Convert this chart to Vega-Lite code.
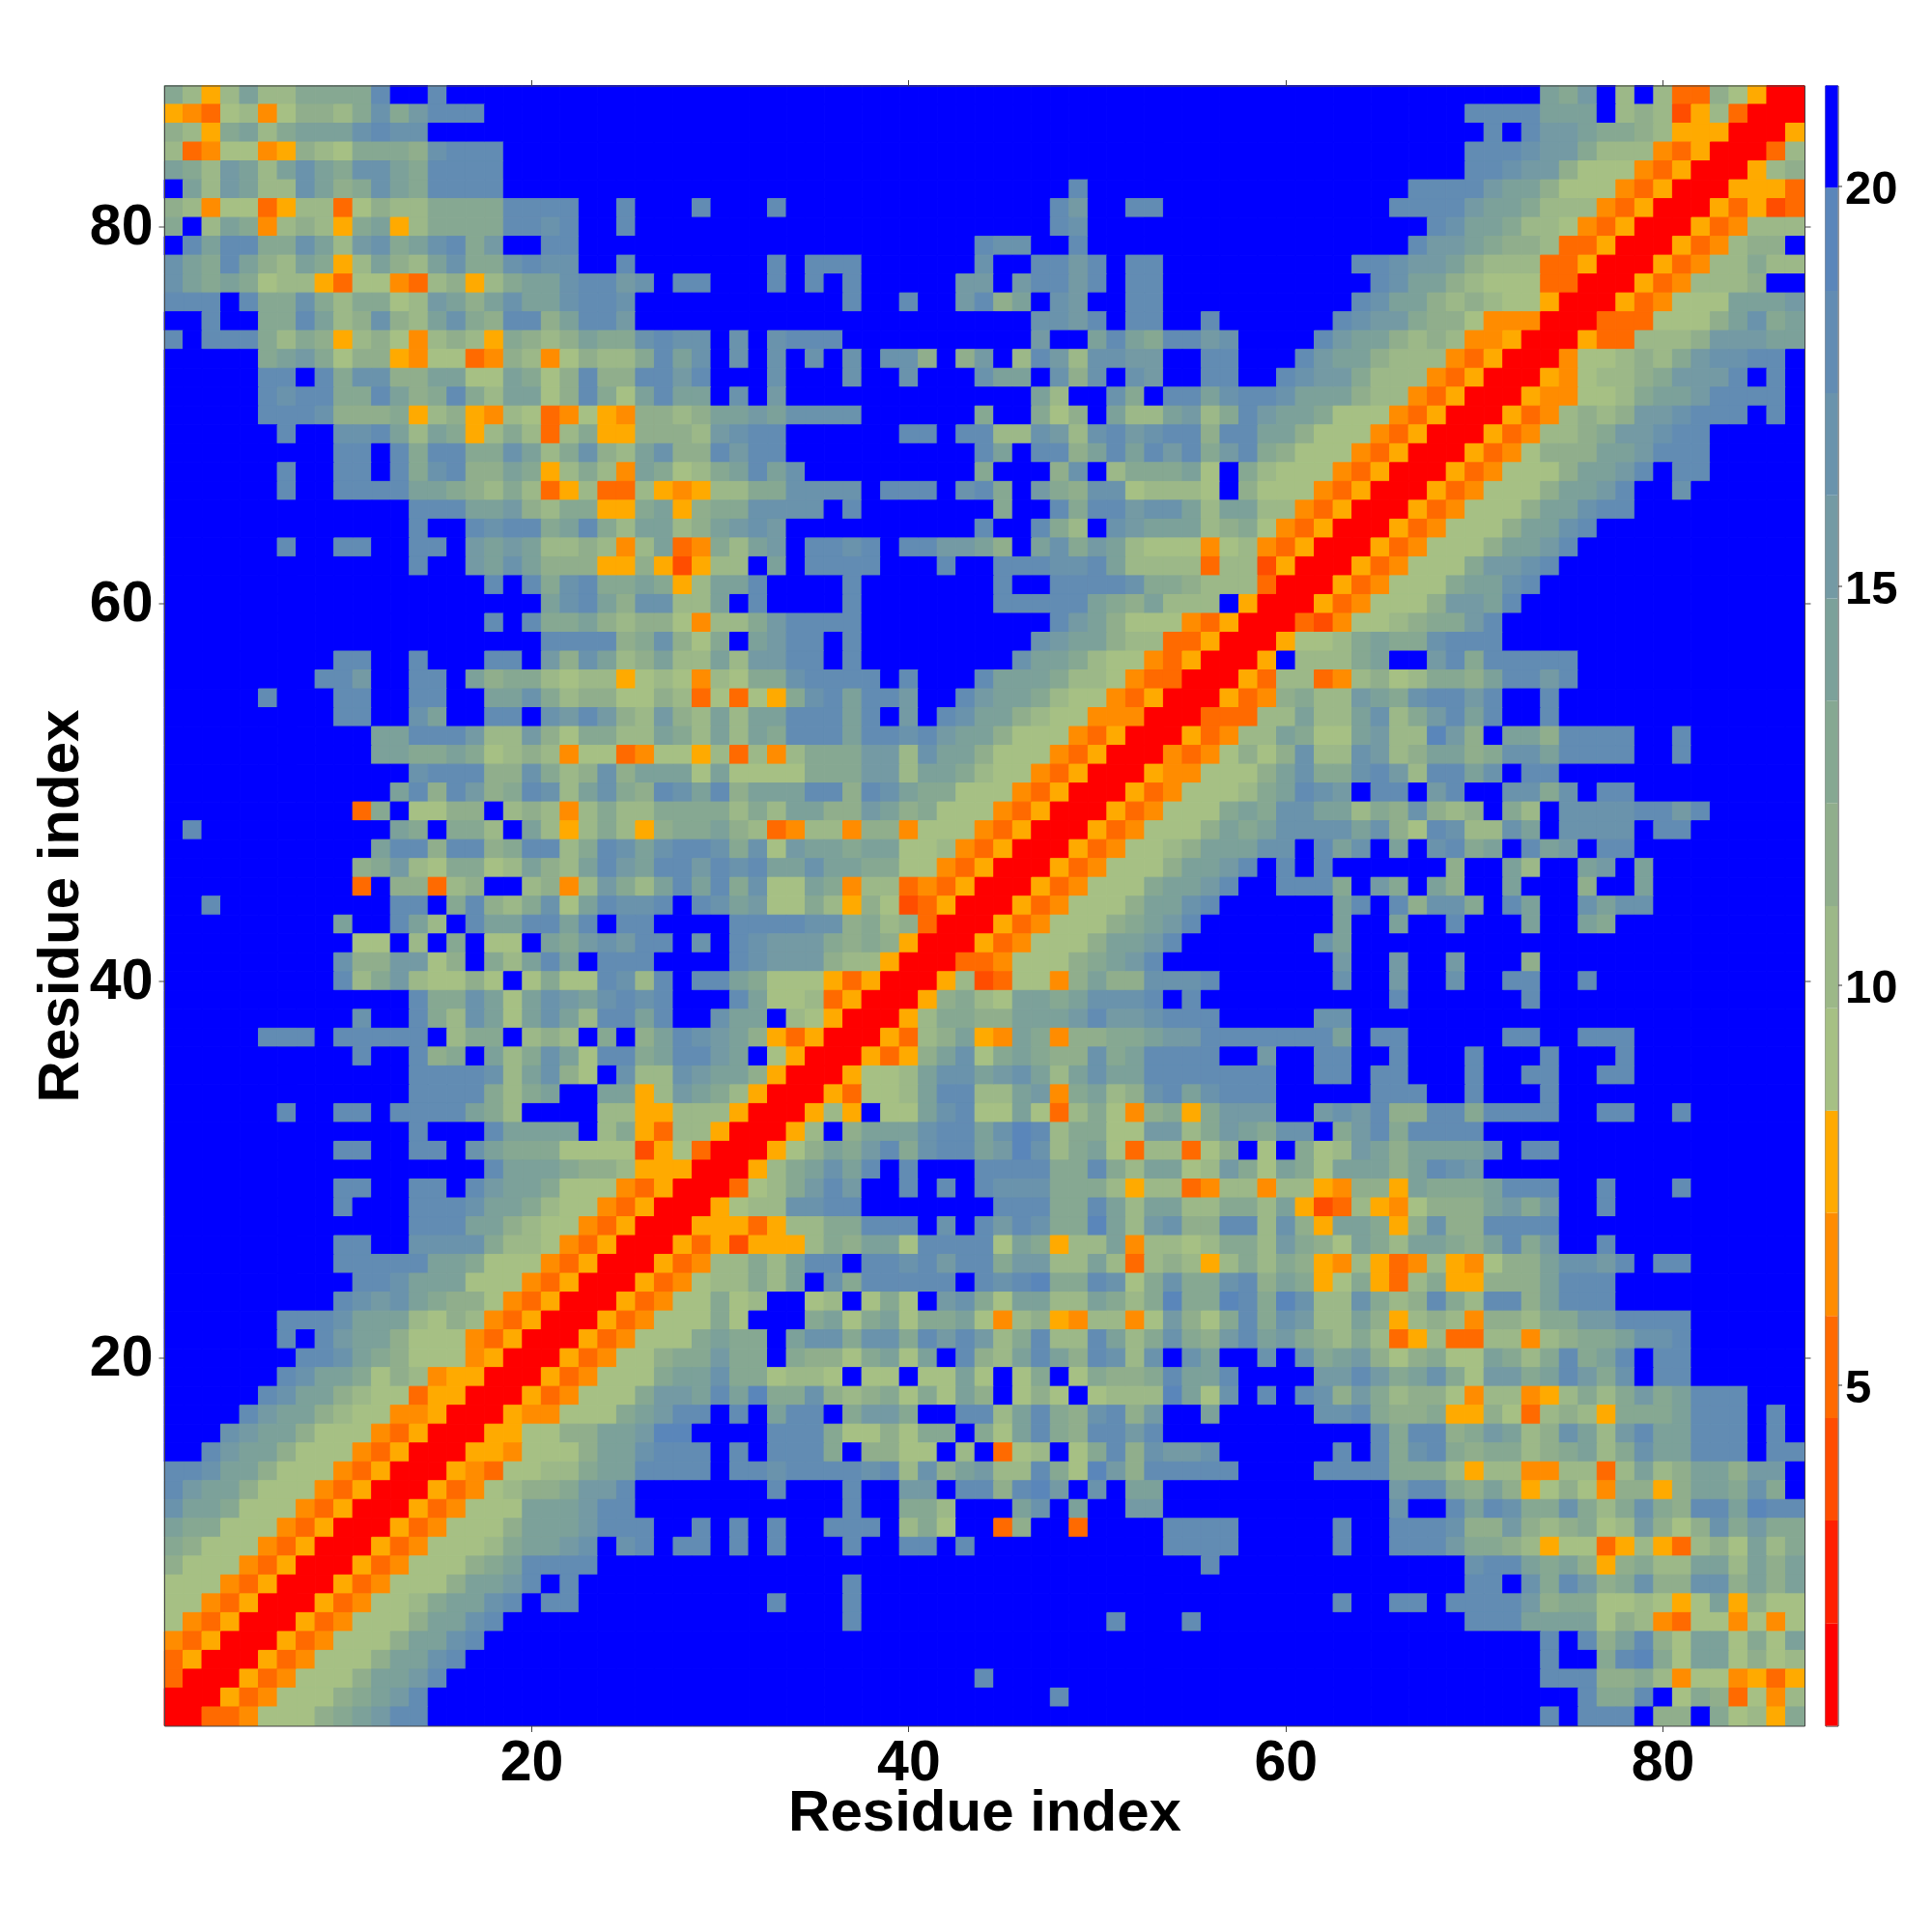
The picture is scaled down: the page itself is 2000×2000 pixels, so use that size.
{"$schema":"https://vega.github.io/schema/vega-lite/v6.json","background":"white","padding":{"left":32,"top":81.5,"right":0,"bottom":0},"config":{"view":{"stroke":null},"font":"Liberation Sans"},"spacing":13.5,"hconcat":[{"width":1698,"height":1698,"data":{"values":[
{"y":87,"v":[13,10,8,10,14,10,10,13,13,13, 13,18,21,21,18,21,21,21,21,21, 21,21,21,21,21,21,21,21,21,21, 21,21,21,21,21,21,21,21,21,21, 21,21,21,21,21,21,21,21,21,21, 21,21,21,21,21,21,21,21,21,21, 21,21,21,21,21,21,21,21,21,21, 21,21,21,14,13,16,21,10,21,10, 5,5,12,9,8,1,1]},
{"y":86,"v":[8,7,5,9,10,7,9,12,12,10, 13,17,13,16,18,18,18,21,21,21, 21,21,21,21,21,21,21,21,21,21, 21,21,21,21,21,21,21,21,21,21, 21,21,21,21,21,21,21,21,21,21, 21,21,21,21,21,21,21,21,21,21, 21,21,21,21,21,21,21,21,21,18, 18,18,18,14,14,14,21,10,12,10, 4,8,10,5,1,1,1]},
{"y":85,"v":[12,10,8,13,14,10,13,14,14,14, 17,18,17,17,21,21,21,21,21,21, 21,21,21,21,21,21,21,21,21,21, 21,21,21,21,21,21,21,21,21,21, 21,21,21,21,21,21,21,21,21,21, 21,21,21,21,21,21,21,21,21,21, 21,21,21,21,21,21,21,21,21,21, 18,21,18,16,16,14,13,13,12,10, 8,8,8,1,1,1,8]},
{"y":84,"v":[10,5,7,9,9,7,8,12,10,9, 13,13,13,12,17,18,18,18,21,21, 21,21,21,21,21,21,21,21,21,21, 21,21,21,21,21,21,21,21,21,21, 21,21,21,21,21,21,21,21,21,21, 21,21,21,21,21,21,21,21,21,21, 21,21,21,21,21,21,21,21,21,18, 18,18,17,16,16,13,10,10,10,7, 5,8,1,1,1,5,10]},
{"y":83,"v":[14,13,10,16,14,10,14,17,14,13, 17,17,14,13,18,18,18,18,21,21, 21,21,21,21,21,21,21,21,21,21, 21,21,21,21,21,21,21,21,21,21, 21,21,21,21,21,21,21,21,21,21, 21,21,21,21,21,21,21,21,21,21, 21,21,21,21,21,21,21,21,21,18, 18,17,16,16,12,9,9,9,7,5, 8,1,1,1,8,10,12]},
{"y":82,"v":[21,14,10,16,14,10,10,17,14,12, 13,17,14,13,18,18,18,18,21,21, 21,21,21,21,21,21,21,21,21,21, 21,21,21,21,21,21,21,21,21,21, 21,21,21,21,21,21,21,21,18,21, 21,21,21,21,21,21,21,21,21,21, 21,21,21,21,21,21,18,18,18,18, 16,14,14,12,9,9,9,7,5,8, 1,1,1,8,8,8,5]},
{"y":81,"v":[12,10,7,9,9,5,8,10,10,5, 9,12,10,10,13,13,13,13,18,18, 18,18,21,21,18,21,21,21,18,21, 21,21,18,21,21,21,21,21,21,21, 21,21,21,21,21,21,21,18,16,21, 21,18,18,21,21,21,21,21,21,21, 21,21,21,21,21,18,18,18,18,16, 14,14,13,10,10,10,7,5,8,1, 1,1,8,5,8,4,5]},
{"y":80,"v":[13,21,10,14,13,7,10,12,10,8, 13,14,8,10,13,13,13,13,18,18, 17,18,21,21,18,21,21,21,21,21, 21,21,21,21,21,21,21,21,21,21, 21,21,21,21,21,21,21,18,17,21, 21,21,21,21,21,21,21,21,21,21, 21,21,21,21,21,21,21,18,17,14, 14,13,10,10,9,7,5,8,1,1, 1,8,5,7,10,10,10]},
{"y":79,"v":[21,18,14,18,18,13,13,17,14,10, 16,17,13,14,17,18,13,16,21,21, 18,18,21,21,21,21,21,21,21,21, 21,21,21,21,21,21,21,21,21,21, 21,21,21,18,17,17,21,21,18,21, 21,21,21,21,21,21,21,21,21,21, 21,21,21,21,21,21,18,16,16,14, 13,12,12,10,5,5,8,1,1,1, 8,5,7,10,12,12,21]},
{"y":78,"v":[17,14,13,18,14,12,10,14,13,8, 10,14,12,10,14,17,13,13,17,18, 17,17,21,21,18,21,21,21,21,21, 21,21,18,21,18,18,18,21,21,21, 21,21,21,17,21,21,18,18,16,18, 21,18,18,21,21,21,21,21,21,21, 21,21,21,18,18,17,16,16,14,12, 10,10,10,5,5,8,1,1,1,8, 5,7,10,10,13,10,10]},
{"y":77,"v":[17,14,13,14,13,9,10,10,8,5, 9,9,7,5,10,12,8,10,13,14, 14,17,18,18,16,17,21,18,18,21, 21,21,18,21,18,21,18,21,21,21, 21,21,16,16,21,16,18,18,16,18, 21,18,18,21,21,21,21,21,21,21, 21,21,21,21,18,17,14,14,12,10, 9,9,9,5,5,1,1,1,8,5, 7,10,10,10,12,21,21]},
{"y":76,"v":[18,18,18,21,18,13,13,17,13,10, 13,13,9,10,16,14,12,14,17,14, 14,17,18,18,17,21,21,21,21,21, 21,21,21,21,21,21,18,21,21,18, 21,21,16,18,12,14,21,17,16,21, 21,18,18,21,21,21,21,21,21,21, 21,21,21,18,17,14,14,12,10,12, 10,9,9,8,1,1,1,8,5,7, 9,9,9,14,14,14,16]},
{"y":75,"v":[21,21,18,21,21,13,13,18,14,10, 12,17,12,10,14,17,13,12,18,18, 12,14,18,18,16,21,21,21,21,21, 21,21,21,21,21,21,21,21,21,21, 21,21,21,21,21,21,17,17,16,18, 21,18,18,21,21,18,21,21,21,21, 21,21,18,17,16,16,13,12,12,9, 7,7,7,1,1,1,5,5,5,9, 9,9,12,14,17,13,14]},
{"y":74,"v":[18,21,18,18,18,13,10,13,12,8, 10,12,9,7,10,12,10,8,13,12, 10,12,14,13,13,17,18,17,17,21, 17,21,17,18,18,18,21,21,21,21, 21,21,21,21,21,21,16,21,21,14, 18,14,13,18,18,16,17,21,21,21, 21,18,16,14,14,12,10,12,10,7, 7,8,1,1,1,8,5,5,10,10, 10,12,16,16,16,14,14]},
{"y":73,"v":[21,21,21,21,21,13,14,16,13,9, 12,12,8,7,9,9,5,7,12,10, 7,9,12,10,10,13,18,14,17,21, 17,21,17,21,17,21,17,21,17,17, 12,21,12,16,21,10,18,16,10,17, 17,16,16,21,21,18,18,21,21,21, 18,16,14,14,12,10,10,10,7,5, 8,1,1,1,7,9,9,10,12,10, 13,16,17,17,18,18,21]},
{"y":72,"v":[21,21,21,21,21,18,18,21,18,13, 17,17,12,12,14,14,9,9,14,13, 9,12,18,12,12,18,18,16,18,21, 21,21,17,21,21,21,17,21,21,17, 21,21,21,17,14,14,21,17,12,17, 21,17,16,21,21,18,18,21,21,18, 17,16,16,13,10,10,10,7,5,8, 1,1,1,8,7,9,10,10,12,13, 16,16,16,18,21,18,21]},
{"y":71,"v":[21,21,21,21,21,18,17,18,18,13, 13,18,14,12,13,18,13,10,14,14, 9,12,18,13,9,14,18,14,14,21, 17,21,16,21,21,21,21,21,21,21, 21,21,21,21,21,21,14,10,21,21, 17,13,21,18,18,14,17,18,18,17, 14,14,14,12,10,10,7,5,8,1, 1,1,8,7,7,9,9,10,13,14, 14,16,18,18,18,18,21]},
{"y":70,"v":[21,21,21,21,21,18,18,18,17,12, 12,12,13,8,10,12,8,7,10,9, 5,7,9,8,7,12,12,10,12,14, 14,16,14,17,17,17,17,21,21,21, 21,21,21,13,21,21,13,9,12,21, 14,10,10,14,16,10,13,18,16,14, 14,13,9,9,9,7,5,8,1,1, 1,8,5,7,10,12,10,12,16,16, 17,18,18,18,21,18,21]},
{"y":69,"v":[21,21,21,21,21,21,18,21,21,17, 17,18,14,10,14,13,8,10,13,10, 5,10,13,8,8,12,12,12,10,16, 17,18,18,21,21,21,21,21,21,18, 18,21,18,18,10,10,17,16,10,17, 18,16,17,18,18,12,18,18,14,14, 12,9,9,9,7,5,8,1,1,1, 8,5,7,10,10,12,13,16,16,17, 18,18,21,21,21,21,21]},
{"y":68,"v":[21,21,21,21,21,21,21,21,21,18, 18,21,18,13,18,18,13,13,17,14, 10,13,17,12,10,14,17,12,12,18, 16,18,18,21,21,21,21,21,21,21, 21,21,21,18,14,21,18,18,12,14, 18,14,18,16,18,13,16,18,13,12, 9,9,9,7,5,8,1,1,1,8, 5,7,9,12,12,12,14,14,16,18, 18,18,21,21,21,21,21]},
{"y":67,"v":[21,21,21,21,21,21,18,21,21,18, 18,21,18,13,17,18,12,12,14,13, 8,10,13,10,7,14,13,9,10,13, 14,18,14,17,21,21,21,21,21,21, 21,21,21,13,21,21,21,12,17,21, 10,13,13,13,14,9,21,13,10,9, 9,9,7,5,8,1,1,1,8,5, 7,9,9,9,12,14,14,16,18,21, 18,18,21,21,21,21,21]},
{"y":66,"v":[21,21,21,21,21,21,18,21,21,18, 18,18,18,14,14,13,12,10,13,10, 5,8,10,5,5,10,8,7,8,10, 10,13,13,17,17,17,17,21,18,18, 18,21,17,18,13,21,16,13,12,17, 17,9,10,10,10,9,21,12,9,9, 9,7,5,8,1,1,1,8,5,7, 9,9,9,12,14,14,16,18,21,21, 17,21,21,21,21,21,21]},
{"y":65,"v":[21,21,21,21,21,21,21,21,21,21, 21,21,21,18,18,18,14,14,16,12, 10,13,13,8,8,13,14,8,12,13, 13,17,17,17,17,21,18,21,21,21, 21,21,21,21,13,21,21,18,13,18, 18,16,17,17,14,10,14,14,10,10, 7,5,8,1,1,1,8,5,7,9, 9,9,12,14,14,17,18,18,21,21, 21,21,21,21,21,21,21]},
{"y":64,"v":[21,21,21,21,21,21,21,21,21,21, 21,21,21,18,21,21,18,17,18,18, 13,14,18,13,10,14,14,10,12,14, 16,17,16,21,21,21,21,21,21,21, 21,21,21,18,21,21,18,13,10,21, 17,16,14,14,14,10,12,13,9,7, 5,8,1,1,1,8,5,7,9,9, 9,12,14,14,17,18,21,21,21,21, 21,21,21,21,21,21,21]},
{"y":63,"v":[21,21,21,21,21,21,18,21,21,18, 18,21,21,18,18,21,16,14,16,14, 10,10,12,10,7,10,14,5,7,13, 10,14,16,21,18,18,17,18,21,18, 18,16,16,14,12,21,14,17,13,16, 14,10,9,9,9,7,9,10,7,5, 8,1,1,1,8,5,7,9,9,9, 12,14,14,16,18,21,21,21,21,21, 21,21,21,21,21,21,21]},
{"y":62,"v":[21,21,21,21,21,21,21,21,21,21, 21,21,21,18,21,21,16,14,17,14, 12,12,12,8,8,12,8,4,8,10, 10,21,14,21,18,18,18,18,21,21, 21,18,21,21,18,18,18,17,17,18, 14,10,10,10,10,5,10,10,4,8, 1,1,1,8,5,7,9,9,9,13, 16,16,17,18,21,21,21,21,21,21, 21,21,21,21,21,21,21]},
{"y":61,"v":[21,21,21,21,21,21,21,21,21,21, 21,21,21,21,21,21,21,18,21,18, 13,17,18,13,13,14,13,8,10,14, 14,18,21,21,21,21,18,21,21,21, 21,21,21,21,18,21,21,18,18,18, 18,17,13,13,12,10,10,10,5,1, 1,1,8,5,7,9,9,9,13,14, 14,17,18,21,21,21,21,21,21,21, 21,21,21,21,21,21,21]},
{"y":60,"v":[21,21,21,21,21,21,21,21,21,21, 21,21,21,21,21,21,21,21,21,21, 14,17,18,14,12,17,17,10,10,14, 21,18,21,21,21,21,18,21,21,21, 21,21,21,21,18,18,18,18,18,14, 13,12,14,10,10,10,21,8,1,1, 1,8,5,7,9,9,9,12,16,16, 14,18,21,21,21,21,21,21,21,21, 21,21,21,21,21,21,21]},
{"y":59,"v":[21,21,21,21,21,21,21,21,21,21, 21,21,21,21,21,21,21,18,21,18, 13,13,14,12,10,12,12,9,7,10, 10,13,16,18,18,18,18,21,21,21, 21,21,21,21,21,21,21,18,16,14, 12,9,9,9,7,5,8,1,1,1, 5,4,7,9,9,10,12,13,13,16, 18,21,21,21,21,21,21,21,21,21, 21,21,21,21,21,21,21]},
{"y":58,"v":[21,21,21,21,21,21,21,21,21,21, 21,21,21,21,21,21,21,21,21,21, 18,18,18,18,12,13,17,12,9,13, 21,14,16,18,18,21,18,21,21,21, 21,21,21,21,21,21,17,16,14,14, 12,10,10,5,5,8,1,1,1,8, 9,9,10,13,14,13,13,17,18,18, 18,21,21,21,21,21,21,21,21,21, 21,21,21,21,21,21,21]},
{"y":57,"v":[21,21,21,21,21,21,21,21,21,18, 18,21,21,18,21,21,21,18,18,21, 16,12,17,14,10,12,14,10,10,14, 10,16,16,18,18,21,18,21,21,21, 21,21,21,21,21,17,14,14,13,10, 9,9,7,5,8,1,1,1,8,21, 10,10,10,13,14,21,21,16,18,13, 18,18,18,18,18,21,21,21,21,21, 21,21,21,21,21,21,21]},
{"y":56,"v":[21,21,21,21,21,21,21,21,18,18, 16,21,21,18,18,21,14,12,13,13, 10,9,10,10,8,9,10,9,7,10, 9,13,13,17,18,18,18,18,21,18, 21,21,21,18,14,14,14,13,10,10, 9,7,5,5,1,1,1,8,5,10, 10,5,7,10,12,9,10,13,13,12, 14,18,18,16,18,21,21,21,21,21, 21,21,21,21,21,21,21]},
{"y":55,"v":[21,21,21,21,21,18,21,21,21,18, 18,21,21,18,18,21,21,14,14,17, 13,10,12,12,9,9,12,10,5,9, 5,9,8,13,17,18,14,18,18,16, 21,21,18,16,14,14,13,10,9,9, 7,5,8,1,1,1,8,5,7,12, 13,10,10,16,14,13,17,18,18,16, 18,21,21,18,21,21,21,21,21,21, 21,21,21,21,21,21,21]},
{"y":54,"v":[21,21,21,21,21,21,21,21,21,18, 18,21,21,17,14,21,21,18,18,21, 17,16,18,16,12,10,16,12,10,14, 10,14,14,18,18,18,14,18,21,16, 21,18,17,14,14,12,10,9,9,7, 7,7,1,1,1,5,5,5,10,10, 14,10,10,14,17,10,13,16,18,14, 18,21,21,18,21,21,21,21,21,21, 21,21,21,21,21,21,21]},
{"y":53,"v":[21,21,21,21,21,21,21,21,21,21, 21,14,14,18,18,18,16,10,10,16, 12,9,13,13,10,10,14,13,10,14, 10,14,13,18,18,18,14,18,18,17, 18,16,14,14,12,9,9,9,7,5, 8,1,1,1,8,5,7,10,10,14, 13,9,9,14,16,10,10,19,16,12, 21,14,14,12,18,18,18,18,21,21, 18,21,21,21,21,21,21]},
{"y":52,"v":[21,21,21,21,21,21,21,21,21,21, 21,14,14,13,13,14,13,9,10,12, 10,7,9,9,5,7,9,9,8,10, 5,10,7,10,13,13,13,16,16,10, 17,14,14,12,9,9,9,7,5,8, 1,1,1,7,5,7,9,12,9,12, 17,10,10,17,16,10,12,14,14,12, 13,17,17,14,18,18,18,18,21,21, 18,21,21,21,21,21,21]},
{"y":51,"v":[21,21,21,21,21,21,21,21,21,21, 21,21,21,17,18,18,18,12,12,17, 13,10,12,17,12,14,14,14,9,14, 9,9,9,9,13,13,13,16,16,10, 14,14,13,10,9,9,7,5,8,1, 1,1,8,7,7,9,9,9,12,14, 17,13,13,17,18,16,10,18,18,14, 17,21,18,18,21,21,21,21,21,21, 21,21,21,21,21,21,21]},
{"y":50,"v":[21,21,21,21,21,21,21,21,21,21, 21,21,14,18,12,18,16,12,13,18, 17,10,14,17,13,12,18,17,14,18, 12,14,14,14,18,18,12,18,17,14, 13,13,9,9,9,7,5,8,1,1, 1,8,5,7,9,9,9,10,13,14, 18,17,16,21,18,18,21,16,18,21, 21,17,17,13,17,21,18,18,21,21, 21,21,21,21,21,21,21]},
{"y":49,"v":[21,21,21,21,21,21,21,21,21,21, 5,13,21,9,9,12,12,21,10,12, 10,7,10,13,10,10,13,13,13,13, 10,13,10,14,14,12,12,16,14,12, 13,9,9,9,7,5,8,1,1,1, 8,5,7,9,9,9,13,14,13,17, 17,14,14,10,13,12,17,12,10,12, 21,13,10,21,17,17,17,17,18,18, 16,18,21,21,21,21,21]},
{"y":48,"v":[21,18,21,21,21,21,21,21,21,21, 21,21,14,13,21,13,13,10,21,14, 10,8,10,13,10,8,12,13,13,14, 12,10,5,7,10,10,7,12,12,7, 9,9,9,7,5,8,1,1,1,8, 5,7,9,9,9,12,14,13,14,17, 17,17,17,14,17,12,9,18,17,10, 10,17,14,21,17,17,17,17,21,18, 18,21,21,21,21,21,21]},
{"y":47,"v":[21,21,21,21,21,21,21,21,21,21, 21,14,18,18,12,18,18,12,13,18, 18,10,13,18,17,14,17,18,18,17, 13,17,9,16,14,14,13,14,14,9, 9,10,7,5,8,1,1,1,8,5, 7,9,9,10,12,14,14,14,17,17, 21,18,14,17,21,14,21,17,18,13, 14,21,18,14,16,21,18,18,21,21, 21,21,21,21,21,21,21]},
{"y":46,"v":[21,21,21,21,21,21,21,21,21,21, 12,13,16,10,9,13,13,9,10,14, 12,10,14,18,16,14,18,18,16,18, 17,18,14,14,17,14,14,13,13,9, 9,7,5,8,1,1,1,8,5,7, 9,9,9,12,14,14,16,18,21,18, 21,18,21,21,21,21,21,21,12,21, 21,14,10,21,21,14,16,21,14,21, 21,21,21,21,21,21,21]},
{"y":45,"v":[21,21,21,21,21,21,21,21,21,21, 5,21,12,12,5,10,12,21,21,10, 12,7,10,16,13,10,14,18,14,18, 13,17,9,9,14,13,7,10,10,5, 7,5,8,1,1,1,8,5,7,9, 9,9,13,14,14,16,18,21,21,18, 18,18,13,21,16,13,21,14,12,21, 21,14,21,21,21,12,21,21,14,21, 21,21,21,21,21,21,21]},
{"y":44,"v":[21,21,18,21,21,21,21,21,21,21, 21,21,18,18,21,13,18,12,10,13, 17,9,14,18,17,17,18,21,18,17, 14,16,9,9,13,10,8,12,9,4, 5,8,1,1,1,8,5,7,9,9, 9,12,14,14,17,18,21,21,21,21, 21,21,14,18,21,18,12,17,17,13, 21,18,14,21,21,17,14,17,17,21, 21,21,21,21,21,21,21]},
{"y":43,"v":[21,21,21,21,21,21,21,21,21,14, 21,21,18,14,10,21,18,14,14,18, 18,14,18,21,18,18,21,21,21,21, 18,18,18,18,17,17,12,13,10,12, 5,1,1,1,8,5,7,9,9,9, 12,13,14,16,18,21,21,21,21,21, 21,21,14,21,21,14,21,21,18,21, 21,21,14,21,21,14,13,21,21,21, 21,21,21,21,21,21,21]},
{"y":42,"v":[21,21,21,21,21,21,21,21,21,21, 9,9,21,10,21,13,21,9,9,21, 14,13,16,17,16,18,18,21,17,21, 18,17,16,16,16,13,12,13,12,8, 1,1,1,8,5,7,9,9,9,12, 14,14,16,18,21,21,21,21,21,21, 21,17,14,21,21,21,21,21,21,21, 21,21,21,21,21,21,21,21,21,21, 21,21,21,21,21,21,21]},
{"y":41,"v":[21,21,21,21,21,21,21,21,21,17, 12,12,16,16,9,12,21,13,10,14, 18,14,21,18,18,18,21,21,21,21, 18,17,16,16,16,12,10,10,8,1, 1,1,5,5,7,9,9,9,12,13, 14,16,18,21,21,21,21,21,21,21, 21,21,16,21,21,16,21,21,16,21, 21,21,12,21,21,21,21,21,21,21, 21,21,21,21,21,21,21]},
{"y":40,"v":[21,21,21,21,21,21,21,21,21,18, 10,13,16,10,9,9,12,9,21,9, 13,9,9,18,17,10,18,21,18,18, 14,13,9,9,9,8,5,8,1,1, 1,8,10,4,5,9,9,7,12,14, 12,12,17,17,17,18,21,21,21,21, 21,21,17,21,21,16,21,21,17,21, 21,18,18,21,21,18,21,21,21,21, 21,21,21,21,21,21,21]},
{"y":39,"v":[21,21,21,21,21,21,21,21,21,21, 21,21,21,18,13,13,17,14,9,14, 17,16,14,17,18,17,18,21,21,21, 18,14,9,9,10,5,8,1,1,1, 8,12,13,10,9,14,14,13,14,17, 17,17,18,21,18,21,21,21,21,21, 21,21,21,21,21,18,21,21,21,21, 21,21,18,21,21,21,21,21,21,21, 21,21,21,21,21,21,21]},
{"y":38,"v":[21,21,21,21,21,21,21,21,21,21, 17,21,21,18,13,10,17,14,9,14, 17,14,10,18,18,14,18,21,21,17, 14,14,21,10,9,8,1,1,1,8, 10,13,13,12,12,14,14,14,16,18, 16,16,17,18,18,18,21,21,21,21, 21,17,17,21,21,21,21,21,21,21, 21,21,21,21,21,21,21,21,21,21, 21,21,21,21,21,21,21]},
{"y":37,"v":[21,21,21,21,21,18,18,18,21,18, 18,18,18,18,21,10,13,13,21,10, 12,10,21,13,21,12,14,18,17,16, 14,12,8,5,8,1,1,1,8,5, 10,12,14,8,7,14,13,7,12,12, 13,13,14,16,16,18,18,18,18,18, 18,18,14,21,18,18,21,21,21,21, 21,18,18,21,21,18,18,18,21,21, 21,21,21,21,21,21,21]},
{"y":36,"v":[21,21,21,21,21,21,21,21,21,21, 18,21,21,18,12,13,21,14,10,13, 17,14,9,18,18,13,14,18,18,16, 14,21,9,8,1,1,1,8,5,8, 12,14,17,9,13,14,13,12,12,17, 13,14,18,18,18,18,21,21,16,21, 21,18,18,21,21,18,21,21,21,18, 21,21,21,18,21,21,21,18,21,21, 21,21,21,21,21,21,21]},
{"y":35,"v":[21,21,21,21,21,21,21,21,21,21, 21,21,21,18,18,18,18,17,10,14, 17,12,9,21,17,10,10,17,16,14, 14,12,8,1,1,1,8,9,9,10, 14,17,17,14,16,17,14,10,14,17, 14,14,18,18,18,18,18,18,18,21, 21,18,18,21,18,18,21,21,21,18, 21,21,18,18,21,21,18,18,21,21, 21,21,21,21,21,21,21]},
{"y":34,"v":[21,21,21,21,21,21,21,21,21,21, 21,21,21,18,18,18,18,13,10,13, 14,21,21,14,14,8,10,16,14,13, 10,8,1,1,1,8,5,9,9,10, 14,18,18,10,10,14,16,7,13,14, 10,12,17,18,14,17,18,18,18,21, 21,21,21,21,18,18,18,21,21,18, 21,21,21,18,21,21,21,21,21,21, 21,21,21,21,21,21,21]},
{"y":33,"v":[21,21,21,21,21,21,18,21,21,18, 18,21,18,18,18,18,14,13,10,21, 21,21,21,10,10,8,8,10,10,10, 8,1,1,1,8,10,8,21,9,9, 14,17,18,9,9,14,9,5,10,13, 9,7,12,13,8,13,16,16,16,21, 21,16,17,16,18,12,12,18,18,13, 18,18,18,18,21,21,18,18,21,21, 18,21,21,21,21,21,21]},
{"y":32,"v":[21,21,21,21,21,21,21,21,21,21, 21,21,21,18,21,21,21,18,14,14, 14,14,21,10,13,8,5,10,10,8, 1,1,1,8,10,21,12,14,14,14, 17,18,18,14,17,19,18,10,13,13, 9,9,16,16,10,13,16,14,13,17, 17,21,13,16,18,13,18,18,18,18, 21,21,21,21,21,21,21,21,21,21, 21,21,21,21,21,21,21]},
{"y":31,"v":[21,21,21,21,21,21,21,21,21,18, 18,21,21,18,18,21,17,14,13,13, 13,9,9,9,9,4,8,9,5,1, 1,1,8,9,12,14,13,16,18,13, 17,18,18,14,16,19,17,10,13,14, 9,5,10,10,5,9,12,21,9,21, 13,9,10,16,14,12,14,14,14,14, 17,21,18,18,21,21,21,21,21,21, 21,21,21,21,21,21,21]},
{"y":30,"v":[21,21,21,21,21,21,21,21,21,21, 21,21,21,21,21,21,21,18,14,14, 14,13,12,12,10,8,8,8,1,1, 1,8,10,13,14,17,14,18,21,18, 21,21,21,18,18,18,18,13,13,18, 13,10,14,14,9,10,16,13,9,14, 13,9,14,14,14,12,14,18,17,16, 21,21,21,21,21,21,21,21,21,21, 21,21,21,21,21,21,21]},
{"y":29,"v":[21,21,21,21,21,21,21,21,21,18, 18,21,21,18,18,21,18,16,14,14, 13,9,9,9,7,5,8,1,1,1, 5,9,10,13,16,18,16,21,21,18, 21,18,21,18,17,17,17,13,13,13, 10,8,10,10,5,7,10,10,7,10, 10,8,7,12,12,8,14,13,13,13, 14,18,18,18,21,21,18,21,21,21, 18,21,21,21,21,21,21]},
{"y":28,"v":[21,21,21,21,21,21,21,21,21,18, 21,21,21,18,18,18,17,14,14,13, 10,9,9,7,5,8,1,1,1,8, 9,10,10,17,17,18,18,21,21,21, 21,21,21,21,18,18,18,13,13,18, 14,10,14,14,10,10,13,13,10,14, 8,4,5,10,8,7,9,12,12,12, 14,16,13,16,21,21,18,21,21,21, 21,21,21,21,21,21,21]},
{"y":27,"v":[21,21,21,21,21,21,21,21,21,21, 21,21,21,18,18,18,14,14,12,10, 9,9,7,5,8,1,1,1,8,8, 8,5,8,10,10,13,13,18,18,18, 21,17,21,18,16,18,17,13,13,19, 14,10,16,17,12,12,18,18,10,17, 12,8,14,14,13,8,12,17,12,12, 18,18,18,18,21,21,21,21,21,21, 21,21,21,21,21,21,21]},
{"y":26,"v":[21,21,21,21,21,21,21,21,21,18, 18,21,21,17,17,17,17,13,10,10, 9,7,5,8,1,1,1,8,5,8, 4,8,8,8,10,13,12,14,14,9, 18,18,18,18,9,14,13,8,10,10, 14,7,10,10,9,10,13,13,10,16, 13,12,9,14,13,10,14,14,13,12, 14,18,13,16,21,21,18,21,21,21, 21,21,21,21,21,21,21]},
{"y":25,"v":[21,21,21,21,21,21,21,21,21,18, 18,18,18,18,14,14,13,9,9,9, 7,5,8,1,1,1,8,5,7,10, 10,13,10,14,18,18,21,18,18,17, 18,16,18,18,13,16,16,10,10,14, 10,5,10,12,10,8,10,13,10,13, 12,8,7,10,8,5,7,10,8,7, 9,12,12,14,17,17,16,18,21,18, 18,21,21,21,21,21,21]},
{"y":24,"v":[21,21,21,21,21,21,21,21,21,21, 18,18,17,14,14,14,9,9,9,7, 5,8,1,1,1,8,5,7,9,10, 10,13,10,14,21,17,13,18,18,18, 18,18,21,18,17,18,19,13,13,18, 17,9,13,17,13,13,17,18,12,14, 13,8,9,13,8,5,10,13,8,8, 12,12,12,14,18,18,18,21,21,21, 21,21,21,21,21,21,21]},
{"y":23,"v":[21,21,21,21,21,21,21,21,21,18, 17,16,17,14,13,12,12,9,7,5, 8,1,1,1,8,5,7,9,9,13, 9,10,21,21,9,10,21,9,13,9, 21,16,17,13,9,14,14,10,10,14, 13,10,13,19,13,13,19,18,13,19, 17,10,10,17,13,10,12,18,13,10, 18,18,12,14,18,18,18,21,21,21, 21,21,21,21,21,21,21]},
{"y":22,"v":[21,21,21,21,21,21,18,18,18,17, 14,14,14,10,9,12,10,7,5,8, 1,1,1,8,5,7,9,9,9,13, 9,21,21,21,13,14,9,13,14,9, 13,13,14,9,7,10,12,8,7,10, 10,7,9,16,12,9,13,18,13,17, 16,10,10,14,12,8,10,12,10,7, 12,12,10,13,13,16,16,18,18,18, 18,21,21,21,21,21,21]},
{"y":21,"v":[21,21,21,21,21,21,18,21,18,16, 14,14,12,9,9,9,7,5,8,1, 1,1,8,5,7,9,9,9,13,14, 13,13,21,14,17,17,13,17,17,13, 18,16,18,16,10,13,18,10,10,18, 14,10,13,17,13,12,16,18,14,16, 13,12,10,13,10,5,8,10,5,5, 10,10,7,10,12,13,13,14,17,17, 18,21,21,21,21,21,21]},
{"y":20,"v":[21,21,21,21,21,21,21,18,18,17, 14,13,12,9,9,9,7,8,1,1, 1,8,5,7,9,9,12,13,13,16, 13,13,21,13,12,12,9,13,14,9, 14,21,18,12,10,14,18,14,12,18, 17,10,17,21,17,14,21,21,17,21, 17,13,14,16,12,9,12,13,9,9, 14,13,10,13,18,13,14,18,21,18, 18,21,21,21,21,21,21]},
{"y":19,"v":[21,21,21,21,21,21,18,17,14,14, 13,9,12,10,7,8,8,1,1,1, 8,5,7,9,9,9,13,14,14,17, 13,13,9,10,10,9,21,9,9,21, 9,9,14,9,21,9,13,21,9,13, 12,12,13,18,14,14,18,21,21,21, 21,16,16,18,16,13,14,17,13,9, 16,16,13,14,18,16,13,17,21,18, 18,21,21,21,21,21,21]},
{"y":18,"v":[21,21,21,21,21,18,17,14,14,12, 10,9,9,5,8,8,1,1,1,8, 5,7,9,9,9,13,16,16,14,18, 14,19,13,13,17,12,10,12,13,9, 13,9,14,12,21,9,12,9,21,9, 10,10,10,19,14,9,17,21,18,21, 18,17,12,16,13,10,12,12,9,7, 10,10,7,8,10,13,10,13,16,13, 14,18,18,18,21,21,21]},
{"y":17,"v":[21,21,21,21,18,16,14,14,12,10, 9,9,7,7,8,1,1,1,8,7, 7,9,9,9,13,14,16,18,18,21, 18,21,14,18,18,21,13,16,16,13, 21,21,18,18,10,14,18,13,12,17, 18,12,16,21,21,14,21,21,21,21, 21,17,17,18,13,12,12,13,8,8, 12,9,5,10,12,10,8,13,13,13, 14,18,18,18,21,18,21]},
{"y":16,"v":[21,21,21,17,16,14,14,12,9,9, 9,7,5,8,1,1,1,8,8,9, 9,12,12,14,14,16,19,19,21,21, 21,21,18,18,18,13,9,9,12,9, 13,13,21,13,9,14,18,13,12,18, 18,16,18,21,21,21,21,21,21,21, 21,21,21,21,18,13,18,18,12,13, 16,14,10,12,17,14,10,16,18,14, 14,18,18,18,21,18,21]},
{"y":15,"v":[21,21,18,16,14,14,12,9,9,9, 7,5,8,1,1,1,8,8,7,9, 9,9,12,14,14,17,18,18,18,21, 18,21,18,18,18,13,21,12,12,9, 9,21,10,21,5,9,10,21,9,13, 18,12,17,16,16,17,21,21,21,21, 21,21,18,21,18,13,17,18,13,12, 13,13,10,12,13,14,10,13,17,14, 14,18,18,18,21,18,18]},
{"y":14,"v":[18,18,17,14,14,12,9,9,9,7, 5,8,1,1,1,8,7,5,9,9, 10,10,13,14,14,18,18,18,18,21, 18,18,17,18,18,18,18,17,18,10, 17,12,14,16,10,10,18,13,9,19, 16,12,18,18,18,18,18,21,21,21, 21,18,18,18,18,13,13,13,10,8, 10,10,7,7,10,10,5,10,14,10, 12,14,14,12,16,16,21]},
{"y":13,"v":[18,16,14,14,12,9,9,9,7,5, 8,1,1,1,8,5,7,9,10,12, 12,13,16,16,18,21,21,21,21,21, 21,21,18,21,21,21,18,21,21,16, 16,21,18,18,12,18,19,16,21,17, 21,14,14,21,21,21,21,21,21,21, 21,21,21,21,21,16,18,18,13,12, 14,12,8,9,12,9,7,12,12,8, 12,14,14,13,17,13,21]},
{"y":12,"v":[17,14,14,13,9,9,9,7,5,8, 1,1,1,8,5,7,9,9,9,14, 14,14,16,18,18,21,21,21,21,21, 21,21,21,21,21,21,18,21,21,13, 13,10,21,21,21,14,17,21,14,21, 21,16,16,21,21,21,21,21,21,21, 21,21,21,21,21,17,21,21,18,14, 18,17,13,13,17,13,10,13,17,13, 12,18,18,14,19,18,18]},
{"y":11,"v":[14,13,13,9,9,9,7,5,8,1, 1,1,8,5,7,9,9,9,12,14, 14,14,16,18,18,18,21,21,18,21, 18,21,18,21,21,18,18,18,21,10, 13,9,21,21,5,12,21,21,5,21, 21,21,21,18,18,18,18,21,21,21, 21,21,18,21,21,18,18,18,17,12, 12,16,12,10,12,13,9,10,16,12, 9,12,17,13,16,13,13]},
{"y":10,"v":[13,12,9,9,9,7,5,8,1,1, 1,8,5,7,9,9,9,10,13,14, 14,16,17,21,17,18,21,18,18,21, 18,21,18,21,21,21,18,21,21,18, 18,21,18,21,21,21,21,21,21,21, 21,21,21,18,18,18,18,21,21,21, 21,21,18,21,21,18,18,18,16,13, 13,12,10,8,9,9,5,8,10,8, 5,10,12,9,14,10,13]},
{"y":9,"v":[12,9,9,9,7,5,8,1,1,1, 8,5,7,9,9,9,12,13,14,18, 18,18,18,21,21,21,21,21,21,21, 21,21,21,21,21,21,21,21,21,21, 21,21,21,21,21,21,21,21,21,21, 21,21,21,21,21,18,21,21,21,21, 21,21,21,21,21,21,21,21,21,17, 18,18,14,13,14,12,8,12,13,10, 10,14,14,10,14,12,14]},
{"y":8,"v":[9,9,9,7,5,8,1,1,1,8, 5,7,9,9,9,12,14,14,16,18, 21,18,21,21,21,21,21,21,21,21, 21,21,21,21,21,21,18,21,21,21, 21,21,21,21,21,21,21,21,21,21, 21,21,21,21,21,21,21,21,21,21, 21,21,21,21,21,21,21,21,21,18, 18,21,17,13,18,16,12,13,17,12, 12,17,17,12,14,12,14]},
{"y":7,"v":[9,9,7,5,8,1,1,1,8,5, 7,9,9,10,13,14,14,17,18,21, 18,18,21,21,21,21,21,21,21,21, 21,21,18,21,21,21,18,21,21,21, 21,21,21,21,21,21,21,21,21,21, 21,21,21,21,21,21,21,21,21,21, 21,21,18,21,21,18,18,21,18,18, 18,18,16,12,13,13,9,9,10,9, 8,9,14,8,12,9,9]},
{"y":6,"v":[9,7,5,8,1,1,1,8,5,7, 9,9,9,12,14,14,17,18,21,21, 21,21,21,21,21,21,21,21,21,21, 21,21,21,21,21,21,18,21,21,21, 21,21,21,21,21,21,21,21,21,21, 18,21,21,21,18,21,21,21,21,21, 21,21,21,21,21,21,21,21,21,18, 18,18,14,14,14,14,9,12,10,7, 5,9,9,7,9,7,9]},
{"y":5,"v":[7,5,8,1,1,1,8,5,7,9, 9,9,12,14,14,17,18,21,21,21, 21,21,21,21,21,21,21,21,21,21, 21,21,21,21,21,21,21,21,21,21, 21,21,21,21,21,21,21,21,21,21, 21,21,21,21,21,21,21,21,21,21, 21,21,21,21,21,21,21,21,21,21, 21,21,21,18,21,18,12,14,18,12, 9,14,14,9,13,9,14]},
{"y":4,"v":[5,8,1,1,1,8,5,7,9,9, 9,12,14,14,17,18,21,21,21,21, 21,21,21,21,21,21,21,21,21,21, 21,21,21,21,21,21,21,21,21,21, 21,21,21,21,21,21,21,21,21,21, 21,21,21,21,21,21,21,21,21,21, 21,21,21,21,21,21,21,21,21,21, 21,21,21,18,21,21,13,18,19,13, 9,14,14,9,12,9,10]},
{"y":3,"v":[5,1,1,1,8,5,7,9,9,9, 12,14,14,16,18,21,21,21,21,21, 21,21,21,21,21,21,21,21,21,21, 21,21,21,21,21,21,21,21,21,21, 21,21,21,18,21,21,21,21,21,21, 21,21,21,21,21,21,21,21,21,21, 21,21,21,21,21,21,21,21,21,21, 21,21,21,18,18,18,12,12,13,10, 7,9,9,7,8,5,8]},
{"y":2,"v":[1,1,1,8,5,7,9,9,9,12, 13,14,16,18,21,21,21,21,21,21, 21,21,21,21,21,21,21,21,21,21, 21,21,21,21,21,21,21,21,21,21, 21,21,21,21,21,21,21,18,21,21, 21,21,21,21,21,21,21,21,21,21, 21,21,21,21,21,21,21,21,21,21, 21,21,21,21,21,18,13,13,18,21, 9,13,12,5,9,7,10]},
{"y":1,"v":[1,1,5,5,7,9,9,9,12,13, 14,16,18,18,21,21,21,21,21,21, 21,21,21,21,21,21,21,21,21,21, 21,21,21,21,21,21,21,21,21,21, 21,21,21,21,21,21,21,21,21,21, 21,21,21,21,21,21,21,21,21,21, 21,21,21,21,21,21,21,21,21,21, 21,21,21,18,21,18,18,18,21,12, 12,21,13,9,10,8,13]}
]},"transform":[{"flatten":["v"]},{"window":[{"op":"row_number","as":"x"}],"groupby":["y"]}],"resolve":{"axis":{"x":"independent","y":"independent"}},"layer":[{"mark":{"type":"rect","strokeWidth":1},"encoding":{"x":{"field":"x","type":"ordinal","scale":{"paddingInner":0,"paddingOuter":0},"axis":{"orient":"bottom","values":[20,40,60,80],"labelAngle":0,"labelFont":"Liberation Sans","labelFontSize":59,"labelFontWeight":"bold","labelColor":"black","labelPadding":3,"tickSize":6,"tickColor":"#444","domainColor":"#444","title":"Residue index","titleFont":"Liberation Sans","titleFontSize":60,"titleFontWeight":"bold","titleColor":"black","titlePadding":-7}},"y":{"field":"y","type":"ordinal","sort":"descending","scale":{"paddingInner":0,"paddingOuter":0},"axis":{"orient":"left","values":[20,40,60,80],"labelFont":"Liberation Sans","labelFontSize":59,"labelFontWeight":"bold","labelColor":"black","labelPadding":6,"tickSize":6,"tickColor":"#444","domainColor":"#444","title":"Residue index","titleFont":"Liberation Sans","titleFontSize":60,"titleFontWeight":"bold","titleColor":"black","titlePadding":-1}},"fill":{"field":"v","type":"quantitative","legend":null,"scale":{"type":"threshold","domain":[2.01,3.3,4.58,5.86,7.15,8.43,9.71,10.99,12.28,13.56,14.84,16.13,17.41,18.69,19.98],"range":["#ff0000","#ff2000","#ff4d00","#ff6a00","#ff8c00","#ffaa00","#a6c084","#9cb888","#90ae8c","#86a892","#7ca19a","#749aa4","#6a93ac","#628cb3","#5a86ba","#0000ff"]}},"stroke":{"field":"v","type":"quantitative","legend":null,"scale":{"type":"threshold","domain":[2.01,3.3,4.58,5.86,7.15,8.43,9.71,10.99,12.28,13.56,14.84,16.13,17.41,18.69,19.98],"range":["#ff0000","#ff2000","#ff4d00","#ff6a00","#ff8c00","#ffaa00","#a6c084","#9cb888","#90ae8c","#86a892","#7ca19a","#749aa4","#6a93ac","#628cb3","#5a86ba","#0000ff"]}}}},{"transform":[{"filter":"datum.x==1&&datum.y==1"}],"mark":{"type":"rect","opacity":0},"encoding":{"x":{"field":"x","type":"ordinal","axis":{"orient":"top","values":[20,40,60,80],"labels":false,"title":null,"tickSize":6,"tickColor":"#444","domainColor":"#444"}},"y":{"field":"y","type":"ordinal","sort":"descending","axis":{"orient":"right","values":[20,40,60,80],"labels":false,"title":null,"tickSize":6,"tickColor":"#444","domainColor":"#444"}}}}]},{"width":13,"height":1698,"view":{"stroke":"#333"},"data":{"values":[{"lo":0.73,"hi":2.01,"d":1},{"lo":2.01,"hi":3.3,"d":3},{"lo":3.3,"hi":4.58,"d":4},{"lo":4.58,"hi":5.86,"d":5},{"lo":5.86,"hi":7.15,"d":7},{"lo":7.15,"hi":8.43,"d":8},{"lo":8.43,"hi":9.71,"d":9},{"lo":9.71,"hi":10.99,"d":10},{"lo":10.99,"hi":12.28,"d":12},{"lo":12.28,"hi":13.56,"d":13},{"lo":13.56,"hi":14.84,"d":14},{"lo":14.84,"hi":16.13,"d":16},{"lo":16.13,"hi":17.41,"d":17},{"lo":17.41,"hi":18.69,"d":18},{"lo":18.69,"hi":19.98,"d":19},{"lo":19.98,"hi":21.26,"d":21}]},"mark":{"type":"rect"},"encoding":{"y":{"field":"lo","type":"quantitative","scale":{"domain":[0.73,21.26],"nice":false,"zero":false},"axis":{"orient":"right","values":[5,10,15,20],"grid":false,"domain":false,"labelFont":"Liberation Sans","labelFontSize":49,"labelFontWeight":"bold","labelColor":"black","labelPadding":3,"labelOffset":3,"tickSize":4,"tickColor":"#333","title":null}},"y2":{"field":"hi"},"fill":{"field":"d","type":"quantitative","legend":null,"scale":{"type":"threshold","domain":[2.01,3.3,4.58,5.86,7.15,8.43,9.71,10.99,12.28,13.56,14.84,16.13,17.41,18.69,19.98],"range":["#ff0000","#ff2000","#ff4d00","#ff6a00","#ff8c00","#ffaa00","#a6c084","#9cb888","#90ae8c","#86a892","#7ca19a","#749aa4","#6a93ac","#628cb3","#5a86ba","#0000ff"]}}}}]}
